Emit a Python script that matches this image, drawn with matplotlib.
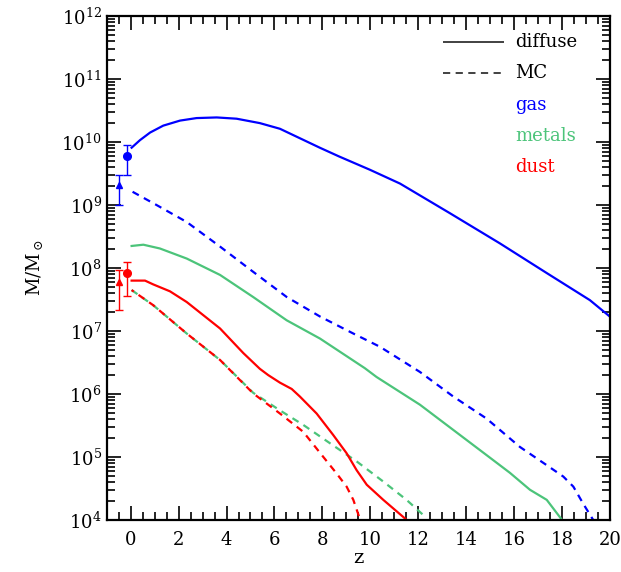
import numpy as np
import matplotlib
matplotlib.use("Agg")
import matplotlib.pyplot as plt
from matplotlib.ticker import LogLocator, MultipleLocator, NullFormatter

plt.rcParams['font.family'] = ['DejaVu Serif']
plt.rcParams['mathtext.fontset'] = 'dejavuserif'

# ---- data (log10 M/Msun vs redshift z) ----
z_gas_diff = [0.04, 0.39, 0.81, 1.36, 2.06, 2.75, 3.59, 4.42, 5.39, 6.23, 7.06, 7.89,
              8.70, 9.98, 11.24, 13.32, 15.41, 17.36, 19.16, 19.99]
lg_gas_diff = [9.91, 10.03, 10.15, 10.26, 10.34, 10.38, 10.39, 10.37, 10.30, 10.21, 10.06, 9.91,
               9.77, 9.56, 9.34, 8.87, 8.39, 7.92, 7.49, 7.23]

z_gas_mc = [0.08, 1.08, 2.34, 3.73, 5.11, 6.51, 7.90, 9.29, 10.40, 12.07, 13.46, 14.85,
            16.24, 17.36, 18.05, 18.47, 18.88, 19.30]
lg_gas_mc = [9.21, 9.00, 8.73, 8.34, 7.94, 7.54, 7.23, 6.96, 6.75, 6.35, 5.96, 5.61,
             5.16, 4.87, 4.69, 4.53, 4.26, 4.00]

z_met_diff = [0.04, 0.53, 1.22, 2.34, 3.73, 5.11, 6.51, 7.90, 9.77, 10.26, 12.07, 13.46,
              14.85, 15.82, 16.66, 17.36, 18.0]
lg_met_diff = [8.35, 8.37, 8.31, 8.15, 7.89, 7.54, 7.17, 6.88, 6.41, 6.27, 5.83, 5.43,
               5.03, 4.75, 4.48, 4.32, 4.00]

z_met_mc = [0.04, 0.94, 2.34, 3.73, 5.11, 6.23, 7.20, 8.31, 9.43, 10.54, 11.51, 12.35]
lg_met_mc = [7.65, 7.41, 6.96, 6.54, 6.02, 5.74, 5.51, 5.22, 4.93, 4.61, 4.32, 4.03]

z_dust_diff = [0.04, 0.6, 0.94, 1.64, 2.34, 3.73, 4.70, 5.39, 5.74, 6.23, 6.72, 7.06,
               7.76, 8.45, 9.01, 9.43, 9.85, 10.54, 11.49]
lg_dust_diff = [7.80, 7.80, 7.74, 7.63, 7.46, 7.04, 6.65, 6.40, 6.30, 6.18, 6.08, 5.96,
                5.69, 5.35, 5.06, 4.79, 4.56, 4.32, 4.01]

z_dust_mc = [0.04, 0.94, 2.34, 3.73, 5.11, 6.23, 7.20, 8.04, 8.59, 9.01, 9.29, 9.57]
lg_dust_mc = [7.65, 7.41, 6.96, 6.54, 6.01, 5.69, 5.40, 5.00, 4.74, 4.53, 4.32, 4.01]

# observational points: z, log value, log lower, log upper
obs_z_circle = [-0.17, -0.17]
obs_lg_circle = [9.78, 7.92]
obs_lo_circle = [9.48, 7.56]
obs_hi_circle = [9.96, 8.10]
obs_z_tri = [-0.48, -0.48]
obs_lg_tri = [9.32, 7.78]
obs_lo_tri = [9.00, 7.34]
obs_hi_tri = [9.48, 7.97]

legend_labels = ['diffuse', 'MC', 'gas', 'metals', 'dust']

BLUE = '#0000ff'
GREEN = '#4cc47a'
RED = '#ff0000'
obs_colors = [BLUE, RED]

fig = plt.figure(figsize=(6.21, 5.72), dpi=100)
ax = fig.add_axes([0.1718, 0.0909, 0.8105, 0.8811])

lw = 1.6
dpat = (3.2, 2.6)

def p(z, lg, color, ls, zorder=2):
    ax.plot(z, 10 ** np.array(lg), color=color, lw=lw, linestyle=ls, zorder=zorder)

p(z_gas_diff, lg_gas_diff, BLUE, '-')
p(z_gas_mc, lg_gas_mc, BLUE, (0, dpat))
p(z_met_diff, lg_met_diff, GREEN, '-')
p(z_met_mc, lg_met_mc, GREEN, (0, dpat), zorder=2)
p(z_dust_diff, lg_dust_diff, RED, '-')
p(z_dust_mc, lg_dust_mc, RED, (2.0, dpat), zorder=3)

for i in range(2):
    c = obs_colors[i]
    y = 10 ** obs_lg_circle[i]
    ax.errorbar([obs_z_circle[i]], [y],
                yerr=[[y - 10 ** obs_lo_circle[i]], [10 ** obs_hi_circle[i] - y]],
                fmt='o', color=c, ms=5.5, capsize=3, elinewidth=1.0, capthick=1.0)
    y = 10 ** obs_lg_tri[i]
    ax.errorbar([obs_z_tri[i]], [y],
                yerr=[[y - 10 ** obs_lo_tri[i]], [10 ** obs_hi_tri[i] - y]],
                fmt='^', color=c, ms=4.5, capsize=3, elinewidth=1.0, capthick=1.0)

ax.set_yscale('log')
ax.set_xlim(-1, 20)
ax.set_ylim(1e4, 1e12)

ax.xaxis.set_major_locator(MultipleLocator(2))
ax.xaxis.set_minor_locator(MultipleLocator(0.5))
ax.yaxis.set_major_locator(LogLocator(base=10, numticks=20))
ax.yaxis.set_minor_locator(LogLocator(base=10, subs=np.arange(2, 10), numticks=20))
ax.yaxis.set_minor_formatter(NullFormatter())

ax.tick_params(which='both', direction='in', top=True, right=True, labelsize=13, width=1.2)
ax.tick_params(which='major', length=10)
ax.tick_params(which='minor', length=5.5)
ax.tick_params(axis='x', which='major', pad=8)
for s in ax.spines.values():
    s.set_linewidth(1.6)

ax.set_xlabel('z', fontsize=14, labelpad=0)
ax.set_ylabel(r'M/M$_\odot$', fontsize=13, labelpad=12)

# legend drawn as key lines + coloured labels (axes fraction placement)
row_y = [0.948, 0.887, 0.823, 0.762, 0.700]
label_colors = ['black', 'black', BLUE, GREEN, RED]
key_styles = ['-', (0, (4, 3)), None, None, None]
for lab, yy, col, st in zip(legend_labels, row_y, label_colors, key_styles):
    if st is not None:
        ax.plot([0.668, 0.789], [yy, yy], transform=ax.transAxes, color='#333333',
                lw=1.3, linestyle=st, solid_capstyle='butt')
    ax.text(0.811, yy, lab, transform=ax.transAxes, color=col, fontsize=13,
            ha='left', va='center')

fig.savefig('out.png', dpi=100)
